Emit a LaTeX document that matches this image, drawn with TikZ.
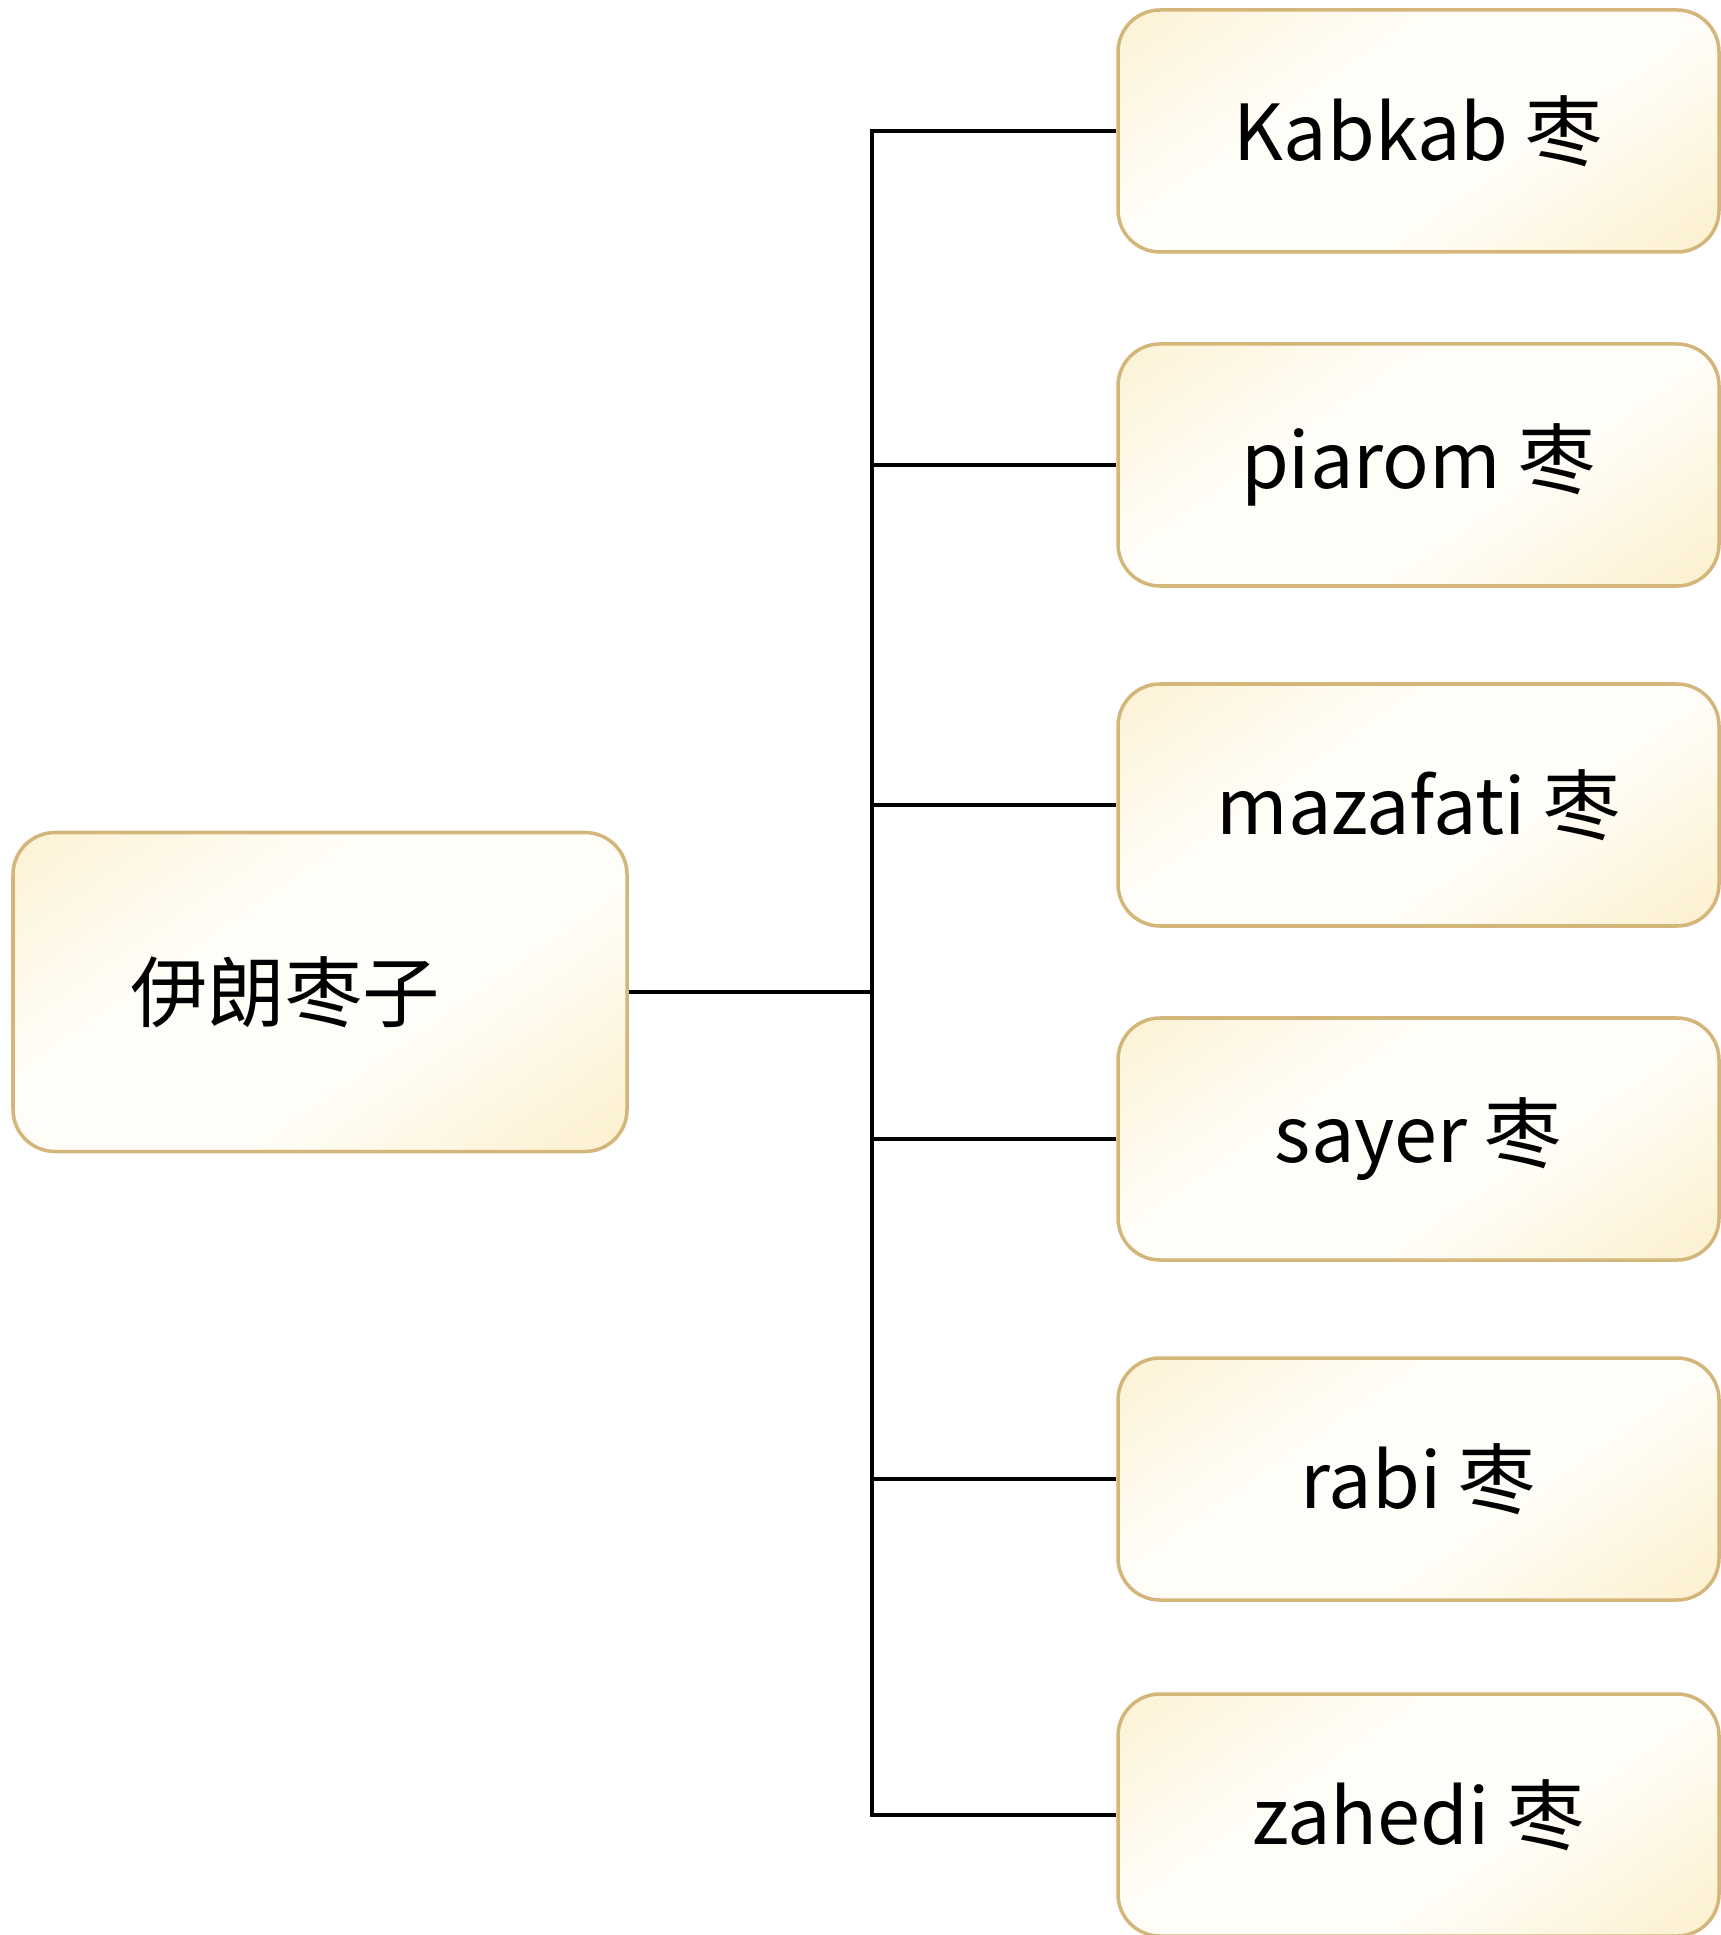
\documentclass[tikz,border=0pt]{standalone}
\usepackage{fontspec}
\newfontfamily\cjk{Noto Sans CJK SC}
\usepackage{xcolor}
\usepackage{tikz}
\usetikzlibrary{positioning}

\definecolor{boxline}{HTML}{D4B67A}
\definecolor{boxcream}{HTML}{FAE7B4}
\definecolor{boxwhite}{HTML}{FFFDF7}
\pgfdeclareverticalshading{creamy}{100bp}{color(0bp)=(boxcream); color(22bp)=(boxcream!45!boxwhite); color(40bp)=(boxwhite); color(62bp)=(boxwhite); color(80bp)=(boxcream!40!boxwhite); color(100bp)=(boxcream)}

\begin{document}
\begin{tikzpicture}
			\tikzstyle{datebox}=[draw=boxline,line width=1pt,rounded corners=0.42cm,
				shading=creamy,shading angle=35,
				font=\cjk\fontsize{22}{26}\selectfont,text=black,inner sep=0pt]
			\tikzstyle{rootbox}=[datebox,minimum width=6.14cm,minimum height=3.19cm]
			\tikzstyle{kindbox}=[datebox,minimum width=6.01cm,minimum height=2.42cm]
			\tikzstyle{elbow}=[to path={|- (\tikztotarget)}]
			\useasboundingbox (0,0) rectangle (17.2,-19.35);
			\node[rootbox](root) at (3.20,-9.92){伊朗枣子\rule{0.7cm}{0pt}};
			\node[kindbox](k1) at (14.185,-1.31){Kabkab 枣};
			\node[kindbox](k2) at (14.185,-4.65){piarom 枣};
			\node[kindbox](k3) at (14.185,-8.05){mazafati 枣};
			\node[kindbox](k4) at (14.185,-11.39){sayer 枣};
			\node[kindbox](k5) at (14.185,-14.79){rabi 枣};
			\node[kindbox](k6) at (14.185,-18.15){zahedi 枣};
			\coordinate (j) at (8.72,-9.92);
			\path[draw=black,line width=1.1pt]
				(root) edge node {}(j)
				(j) edge[elbow] node {}(k1.west)
				(j) edge[elbow] node {}(k2.west)
				(j) edge[elbow] node {}(k3.west)
				(j) edge[elbow] node {}(k4.west)
				(j) edge[elbow] node {}(k5.west)
				(j) edge[elbow] node {}(k6.west);
		\end{tikzpicture}
\end{document}
